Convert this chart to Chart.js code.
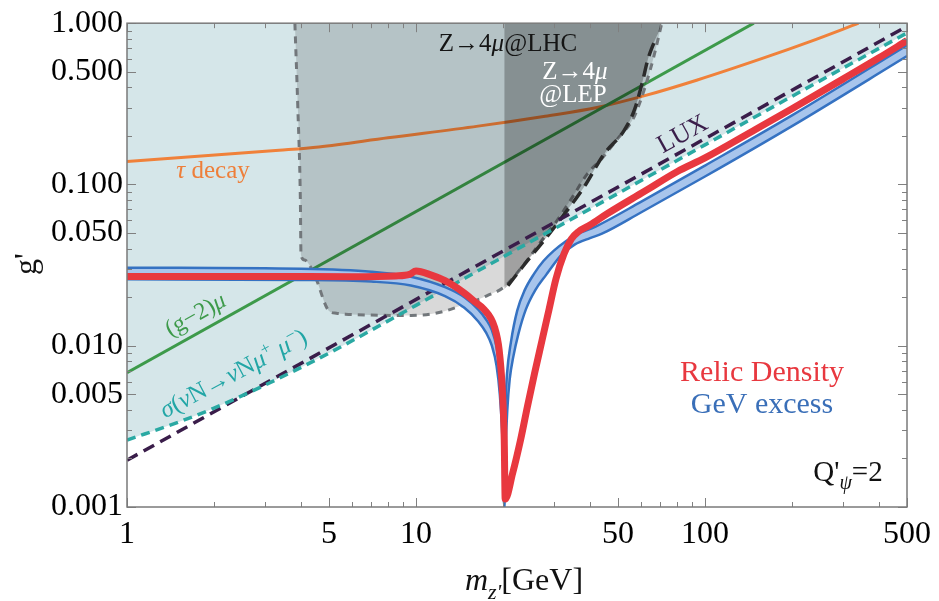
<!DOCTYPE html>
<html>
<head>
<meta charset="utf-8">
<script src="https://cdn.jsdelivr.net/npm/chart.js@4.4.1/dist/chart.umd.min.js"></script>
<style>
  html, body { margin: 0; padding: 0; background: #fff; }
</style>
</head>
<body>
<canvas id="chart" width="939" height="601"></canvas>
<script>
// axis ticks
const xTicks = [1, 5, 10, 50, 100, 500];
const xTickLabels = ["1", "5", "10", "50", "100", "500"];
const yTicks = [0.001, 0.005, 0.01, 0.05, 0.1, 0.5, 1];
const yTickLabels = ["0.001", "0.005", "0.010", "0.050", "0.100", "0.500", "1.000"];

// m_Z' [GeV] and g' values
const tauM = [1, 3.36, 4.61, 8, 16.4, 28, 42.3, 62.8, 93.5, 158.8, 232, 340];
const tauG = [0.139, 0.163, 0.171, 0.195, 0.23, 0.265, 0.30, 0.358, 0.443, 0.607, 0.772, 1.0];

const gm2M = [1, 147.5];
const gm2G = [0.0068, 1.0];

const luxM = [1, 500];
const luxG = [0.00195, 0.957];

const nuM = [1, 1.5, 2, 3, 5, 10, 20, 50, 100, 200, 500];
const nuG = [0.0026, 0.00335, 0.0041, 0.0057, 0.009, 0.0178, 0.0355, 0.088, 0.176, 0.352, 0.87];

const lhcM = [3.81, 3.9, 3.98, 4.0, 4.12, 4.26, 4.49, 4.99, 5.3, 5.7, 7, 9.6, 11.9, 14.7, 17.7, 20.2, 24, 27, 30.8, 35, 39.1, 44, 49.6, 56.8, 62, 66.5, 70.9];
const lhcG = [1.0, 0.3, 0.08, 0.0365, 0.034, 0.032, 0.0266, 0.0165, 0.0159, 0.0157, 0.0155, 0.0154, 0.016, 0.018, 0.0205, 0.0232, 0.033, 0.044, 0.06, 0.085, 0.116, 0.145, 0.19, 0.262, 0.40, 0.62, 1.0];

const lepM = [20.8, 24.3, 27.7, 32.6, 38.1, 44.7, 52.4, 57, 60.5, 63.5, 67];
const lepG = [0.0236, 0.0337, 0.0448, 0.0655, 0.096, 0.154, 0.215, 0.29, 0.42, 0.6, 0.78];
const lepFillM = [20.2, 20.8, 24.3, 27.7, 32.6, 38.1, 44.7, 52.4, 57, 60.5, 63.5, 67, 69.5, 70.9];
const lepFillG = [0.0225, 0.0236, 0.0337, 0.0448, 0.0655, 0.096, 0.154, 0.215, 0.29, 0.42, 0.6, 0.78, 0.9, 1.0];

// GeV excess band: upper and lower edges
const gevUpM = [1, 4, 7, 9.6, 12.6, 14.7, 16.4, 17.5, 18.3, 19.0, 19.5, 19.85, 20.05, 20.2,
  20.28, 20.42, 20.65, 21.3, 22.4, 23.8, 25.6, 27.6, 30, 33, 36, 42, 60, 100, 200, 500];
const gevUpG = [0.0305, 0.03, 0.0288, 0.0268, 0.0231, 0.02, 0.0168, 0.0145, 0.0125, 0.0098, 0.007, 0.0045, 0.0025, 0.001,
  0.0025, 0.0045, 0.0067, 0.0105, 0.0165, 0.0222, 0.0279, 0.0335, 0.0389, 0.0445, 0.049, 0.055, 0.078, 0.131, 0.268, 0.73];
const gevLoM = [1, 4, 7, 9.6, 12.6, 14.7, 16.4, 17.5, 18.3, 19.0, 19.5, 19.85, 20.05, 20.2,
  20.4, 20.7, 21.1, 21.7, 22.6, 24.0, 25.9, 28.2, 31.8, 35.5, 40, 44, 60, 100, 200, 500];
const gevLoG = [0.0258, 0.0256, 0.025, 0.0236, 0.0203, 0.0172, 0.0142, 0.012, 0.01, 0.0075, 0.005, 0.003, 0.0018, 0.001,
  0.0022, 0.004, 0.0062, 0.0085, 0.0118, 0.0168, 0.0222, 0.0275, 0.0365, 0.0425, 0.0465, 0.0495, 0.067, 0.112, 0.23, 0.625];

// relic density
const relicM = [1, 3, 6, 8.5, 9.5, 10, 11.3, 12.6, 14.7, 16, 17.2, 18.7, 19.4, 19.9, 20.2, 20.35,
  21.6, 23, 24.3, 25.7, 27.3, 28.8, 30.5, 32.5, 34.5, 36.5, 40, 46, 62, 80, 100, 150, 200, 300, 400, 500];
const relicG = [0.0269, 0.0269, 0.0268, 0.0271, 0.0277, 0.0291, 0.0274, 0.0253, 0.0212, 0.0187, 0.0168, 0.013, 0.0094, 0.0053, 0.0026, 0.00112,
  0.00162, 0.0026, 0.0042, 0.0067, 0.0108, 0.0165, 0.026, 0.037, 0.046, 0.051, 0.056, 0.066, 0.091, 0.12, 0.146, 0.22, 0.295, 0.45, 0.61, 0.78];

const pts = (xs, ys) => xs.map((x, i) => ({ x, y: ys[i] }));
const serif = "'Liberation Serif', 'Times New Roman', serif";

function drawRuns(ctx, runs, cx, cy, size, color, angle) {
  ctx.save();
  ctx.translate(cx, cy);
  if (angle) ctx.rotate(angle * Math.PI / 180);
  ctx.fillStyle = color;
  ctx.textBaseline = "alphabetic";
  ctx.textAlign = "left";
  const items = runs.map((r) => {
    const s = r.sub || r.sup ? Math.round(size * 0.68) : size;
    const font = (r.it ? "italic " : "") + s + "px " + serif;
    ctx.font = font;
    return { ...r, font, w: ctx.measureText(r.t).width };
  });
  const total = items.reduce((a, r) => a + r.w, 0);
  let x = -total / 2;
  items.forEach((r) => {
    ctx.font = r.font;
    const dy = r.sub ? size * 0.28 : r.sup ? -size * 0.38 : 0;
    ctx.fillText(r.t, x, size * 0.33 + dy);
    x += r.w;
  });
  ctx.restore();
}

const near = (v, list) => list.some((t) => Math.abs(v - t) / t < 1e-6);

const framePlugin = {
  id: "frame",
  afterDatasetsDraw(chart) {
    const { ctx, chartArea: a, scales: { x, y } } = chart;
    ctx.save();
    ctx.strokeStyle = "#808080";
    ctx.lineWidth = 1;
    ctx.beginPath();
    for (let d = -3; d <= 2; d++) {
      for (let k = 1; k <= 9; k++) {
        const v = k * Math.pow(10, d);
        if (v >= 1 && v <= 500) {
          const px = Math.round(x.getPixelForValue(v)) + 0.5;
          const len = near(v, xTicks) ? 9 : 5;
          ctx.moveTo(px, a.bottom); ctx.lineTo(px, a.bottom - len);
          ctx.moveTo(px, a.top); ctx.lineTo(px, a.top + len);
        }
        if (v >= 0.001 && v <= 1) {
          const py = Math.round(y.getPixelForValue(v)) + 0.5;
          const len = near(v, yTicks) ? 9 : 5;
          ctx.moveTo(a.left, py); ctx.lineTo(a.left + len, py);
          ctx.moveTo(a.right, py); ctx.lineTo(a.right - len, py);
        }
      }
    }
    ctx.stroke();
    ctx.lineWidth = 1.5;
    ctx.strokeStyle = "#7a7a7a";
    ctx.strokeRect(a.left, a.top, a.right - a.left, a.bottom - a.top);
    ctx.restore();

    // labels on the plot
    drawRuns(ctx, [{ t: "Z→4" }, { t: "μ", it: true }, { t: "@LHC" }], 508, 43, 25, "#151515");
    drawRuns(ctx, [{ t: "Z→4" }, { t: "μ", it: true }], 575, 71, 25, "#ffffff");
    drawRuns(ctx, [{ t: "@LEP" }], 573, 94, 25, "#ffffff");
    drawRuns(ctx, [{ t: "τ", it: true }, { t: " decay" }], 213, 170, 25, "#ee7f3a");
    drawRuns(ctx, [{ t: "LUX" }], 682, 133, 26, "#3a1d4a", -29);
    drawRuns(ctx, [{ t: "(g−2)" }, { t: "μ", it: true }], 195, 314, 24, "#3d9a4a", -29);
    drawRuns(ctx, [{ t: "σ", it: true }, { t: "(" }, { t: "ν", it: true }, { t: "N→" }, { t: "ν", it: true },
      { t: "N" }, { t: "μ", it: true }, { t: "+", sup: true }, { t: " μ", it: true }, { t: "−", sup: true }, { t: ")" }],
      233, 373, 25, "#22a6a6", -28);
    drawRuns(ctx, [{ t: "Relic Density" }], 762, 371, 30, "#e8383f");
    drawRuns(ctx, [{ t: "GeV excess" }], 762, 403, 30, "#3a6fb8");
    drawRuns(ctx, [{ t: "Q'" }, { t: "ψ", it: true, sub: true }, { t: "=2" }], 848, 471, 29, "#111");

    // axis titles
    drawRuns(ctx, [{ t: "m", it: true }, { t: "z'", it: true, sub: true }, { t: "[GeV]" }], 524, 579, 32, "#111");
    drawRuns(ctx, [{ t: "g'" }], 25, 264, 32, "#111", -90);
  },
};

const line = (data, color, width, dash, order, extra) => Object.assign({
  data, borderColor: color, borderWidth: width, borderDash: dash || [],
  pointRadius: 0, fill: false, order, clip: 0,
}, extra || {});

const smooth = { cubicInterpolationMode: "monotone" };

const datasets = [
  line(pts(nuM, nuG), "rgba(0,0,0,0)", 0, null, 20, Object.assign({ fill: "end", backgroundColor: "#d5e6e9" }, smooth)),
  line(pts(tauM, tauG), "#f0813a", 3, null, 19, smooth),
  line(pts(gm2M, gm2G), "#3d9a4a", 3, null, 18),
  line(pts(lhcM, lhcG), "#72777b", 3, [7, 6], 17, Object.assign({ fill: "end", backgroundColor: "rgba(0,0,0,0.15)" }, smooth)),
  line(pts(lepFillM, lepFillG), "rgba(0,0,0,0)", 0, null, 16, Object.assign({ fill: "end", backgroundColor: "rgba(0,0,0,0.26)" }, smooth)),
  line(pts(lepM, lepG), "#2b2b2b", 3.5, [14, 7], 15, smooth),
  line(pts(luxM, luxG), "#3a1d4a", 3.5, [12, 7], 14),
  line(pts(nuM, nuG), "#2aa9a3", 3.5, [9, 6], 13, smooth),
  line(pts(gevUpM, gevUpG), "#3572c2", 2.5, null, 12, Object.assign({ fill: 9, backgroundColor: "#a8c5ec" }, smooth)),
  line(pts(gevLoM, gevLoG), "#3572c2", 2.5, null, 11, smooth),
  line(pts(relicM, relicG), "#e8383f", 7, null, 10, Object.assign({ borderJoinStyle: "round" }, smooth)),
];

new Chart(document.getElementById("chart"), {
  type: "line",
  data: { datasets },
  options: {
    responsive: false,
    animation: false,
    devicePixelRatio: 1,
    layout: { padding: { top: 22, right: 27, left: 0, bottom: 0 } },
    plugins: { legend: { display: false }, tooltip: { enabled: false } },
    scales: {
      x: {
        type: "logarithmic",
        min: 1,
        max: 500,
        afterBuildTicks: (s) => { s.ticks = xTicks.map((v) => ({ value: v })); },
        afterFit: (s) => { s.height = 94; },
        grid: { display: false, drawTicks: false },
        border: { display: false },
        ticks: {
          autoSkip: false, maxRotation: 0, padding: 8, color: "#000",
          font: { family: serif, size: 32 },
          callback: (v, i) => xTickLabels[i],
        },
      },
      y: {
        type: "logarithmic",
        min: 0.001,
        max: 1,
        afterBuildTicks: (s) => { s.ticks = yTicks.map((v) => ({ value: v })); },
        afterFit: (s) => { s.width = 127; },
        grid: { display: false, drawTicks: false },
        border: { display: false },
        ticks: {
          autoSkip: false, padding: 4, color: "#000",
          font: { family: serif, size: 32 },
          callback: (v, i) => yTickLabels[i],
        },
      },
    },
  },
  plugins: [framePlugin],
});
</script>
</body>
</html>
